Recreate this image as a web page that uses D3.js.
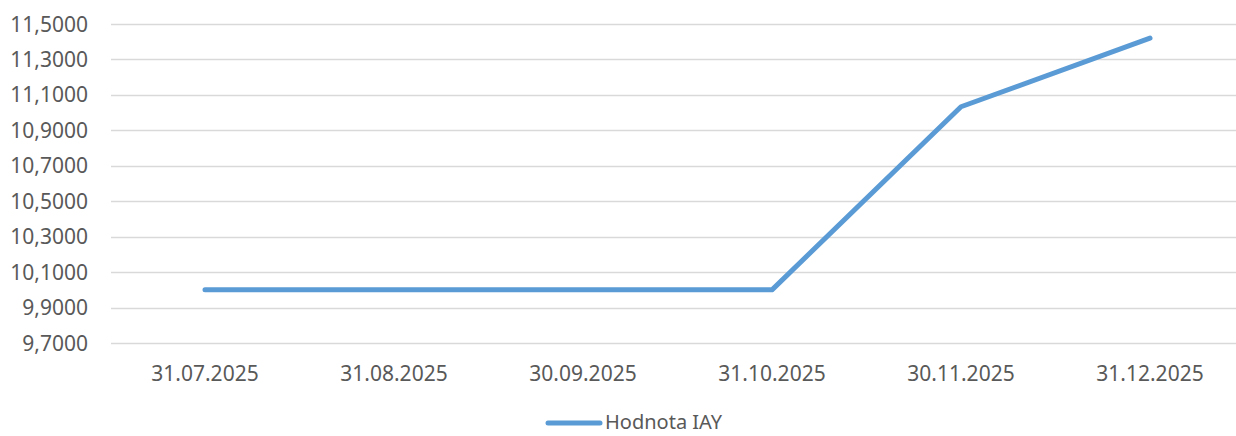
<!DOCTYPE html>
<html>
<head>
<meta charset="utf-8">
<script src="https://cdn.jsdelivr.net/npm/d3@7"></script>
<style>
html,body{margin:0;padding:0;background:#fff;}
svg{display:block;}
</style>
</head>
<body>
<svg id="chart" width="1236" height="436"></svg>
<script>
const categories = ["31.07.2025","31.08.2025","30.09.2025","31.10.2025","30.11.2025","31.12.2025"];
const values = [10.0, 10.0, 10.0, 10.0, 11.033, 11.42];
const yTicks = [9.7, 9.9, 10.1, 10.3, 10.5, 10.7, 10.9, 11.1, 11.3, 11.5];
const seriesName = "Hodnota IAY";

(function () {
const svg = d3.select("#chart");
const W = 1236;
const plotLeft = 110.5, plotRight = 1244.5, plotTop = 24, plotBottom = 343;
const font = "'Noto Sans', sans-serif";
const textColor = "#595959";
const lineColor = "#5B9BD5";

const x = d3.scaleBand().domain(categories).range([plotLeft, plotRight]);
const y = d3.scaleLinear().domain([9.7, 11.5]).range([plotBottom, plotTop]);

// gridlines
svg.append("g").selectAll("line").data(yTicks).join("line")
  .attr("x1", 111).attr("x2", W)
  .attr("y1", d => Math.round(y(d)) + 0.5).attr("y2", d => Math.round(y(d)) + 0.5)
  .attr("stroke", "#d9d9d9").attr("stroke-width", 1.5);

// y labels
const fmt = d => d.toFixed(4).replace(".", ",");
svg.append("g").selectAll("text").data(yTicks).join("text")
  .attr("x", 88).attr("y", d => y(d))
  .attr("dy", "0.36em")
  .attr("text-anchor", "end")
  .attr("font-family", font).attr("font-size", 21)
  .attr("fill", textColor)
  .text(fmt);

// x labels
svg.append("g").selectAll("text").data(categories).join("text")
  .attr("x", d => x(d) + x.bandwidth() / 2).attr("y", 381)
  .attr("text-anchor", "middle")
  .attr("font-family", font).attr("font-size", 21)
  .attr("fill", textColor)
  .text(d => d);

// line
const line = d3.line()
  .x((d, i) => x(categories[i]) + x.bandwidth() / 2)
  .y(d => y(d));
svg.append("path").datum(values)
  .attr("d", line)
  .attr("fill", "none")
  .attr("stroke", lineColor)
  .attr("stroke-width", 5)
  .attr("stroke-linecap", "round")
  .attr("stroke-linejoin", "round");

// legend
svg.append("line")
  .attr("x1", 548).attr("x2", 600).attr("y1", 423).attr("y2", 423)
  .attr("stroke", lineColor).attr("stroke-width", 5).attr("stroke-linecap", "round");
svg.append("text")
  .attr("x", 605).attr("y", 429)
  .attr("font-family", font).attr("font-size", 20)
  .attr("fill", textColor)
  .text(seriesName);
})();
</script>
</body>
</html>
